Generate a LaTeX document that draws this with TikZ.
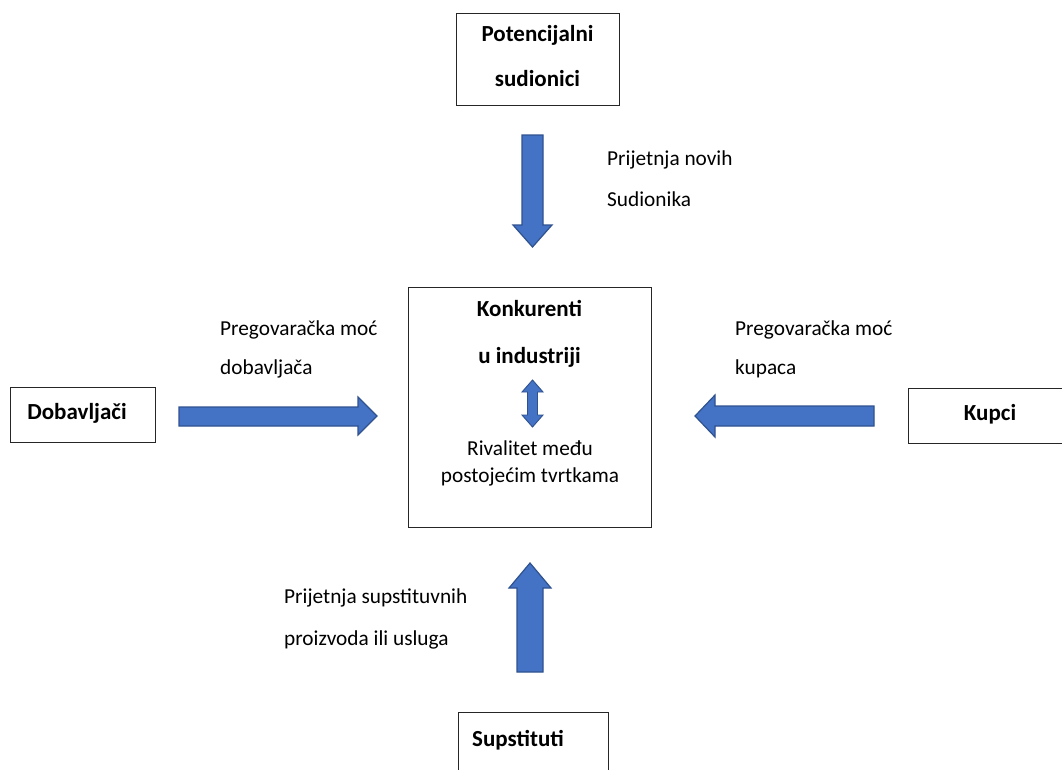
\documentclass[tikz,border=0pt]{standalone}
\usepackage{fontspec}
\setmainfont{Carlito}
\definecolor{afill}{RGB}{68,114,196}
\definecolor{aline}{RGB}{47,82,143}
\begin{document}
\begin{tikzpicture}[x=1pt,y=-1pt,
  box/.style={draw=black!85,line width=1pt,fill=white},
  barrow/.style={draw=aline,fill=afill,line width=1.2pt,line join=miter},
  lbl/.style={anchor=west,inner sep=0pt,font=\fontsize{21.3}{24}\selectfont,text height=14pt,text depth=5pt},
  blbl/.style={inner sep=0pt,font=\fontsize{23}{26}\selectfont\bfseries,text height=15pt,text depth=5pt},
  clbl/.style={inner sep=0pt,font=\fontsize{21.3}{24}\selectfont,text height=14pt,text depth=5pt}]
\useasboundingbox (0,0) rectangle (1062,769);
% boxes
\draw[box] (456,13) rectangle (619,105);
\node[blbl] (pot1) at (537.5,36) {Potencijalni};
\node[blbl] (pot2) at (537.5,81) {sudionici};
\draw[box] (408,287) rectangle (651,527);
\node[blbl] (konk) at (529.5,311) {Konkurenti};
\node[blbl] (uind) at (529.5,358) {u industriji};
\node[clbl] (riv1) at (530,451) {Rivalitet među};
\node[clbl] (riv2) at (530,478) {postojećim tvrtkama};
\draw[box] (10,387) rectangle (155,442);
\node[blbl] (dob) at (77,414) {Dobavljači};
\draw[box] (908,388) rectangle (1066,443);
\node[blbl] (kup) at (990,415) {Kupci};
\draw[box] (458,712) rectangle (608,775);
\node[blbl] (sup) at (518,741) {Supstituti};
% labels
\node[lbl] (l1) at (607,161) {Prijetnja novih};
\node[lbl] (l2) at (607,202) {Sudionika};
\node[lbl] (l3) at (220,331) {Pregovaračka moć};
\node[lbl] (l4) at (220,370) {dobavljača};
\node[lbl] (l5) at (735,331) {Pregovaračka moć};
\node[lbl] (l6) at (735,370) {kupaca};
\node[lbl] (l7) at (284,599) {Prijetnja supstituvnih};
\node[lbl] (l8) at (284,641) {proizvoda ili usluga};
% block arrows
\draw[barrow] (522,135) -- (543,135) -- (543,225) -- (552,225) -- (532.5,247) -- (513,225) -- (522,225) -- cycle;
\draw[barrow] (517,672) -- (543,672) -- (543,588) -- (551,588) -- (530,563) -- (509,588) -- (517,588) -- cycle;
\draw[barrow] (179,407) -- (358,407) -- (358,397) -- (377,416) -- (358,435) -- (358,426) -- (179,426) -- cycle;
\draw[barrow] (874,406) -- (715,406) -- (715,395) -- (695,416) -- (715,437) -- (715,426) -- (874,426) -- cycle;
\draw[barrow,line width=0.9pt] (527.5,392) -- (522,392) -- (532.5,380) -- (543,392) -- (537.5,392) -- (537.5,415) -- (543,415) -- (532.5,427) -- (522,415) -- (527.5,415) -- cycle;
\end{tikzpicture}
\end{document}
